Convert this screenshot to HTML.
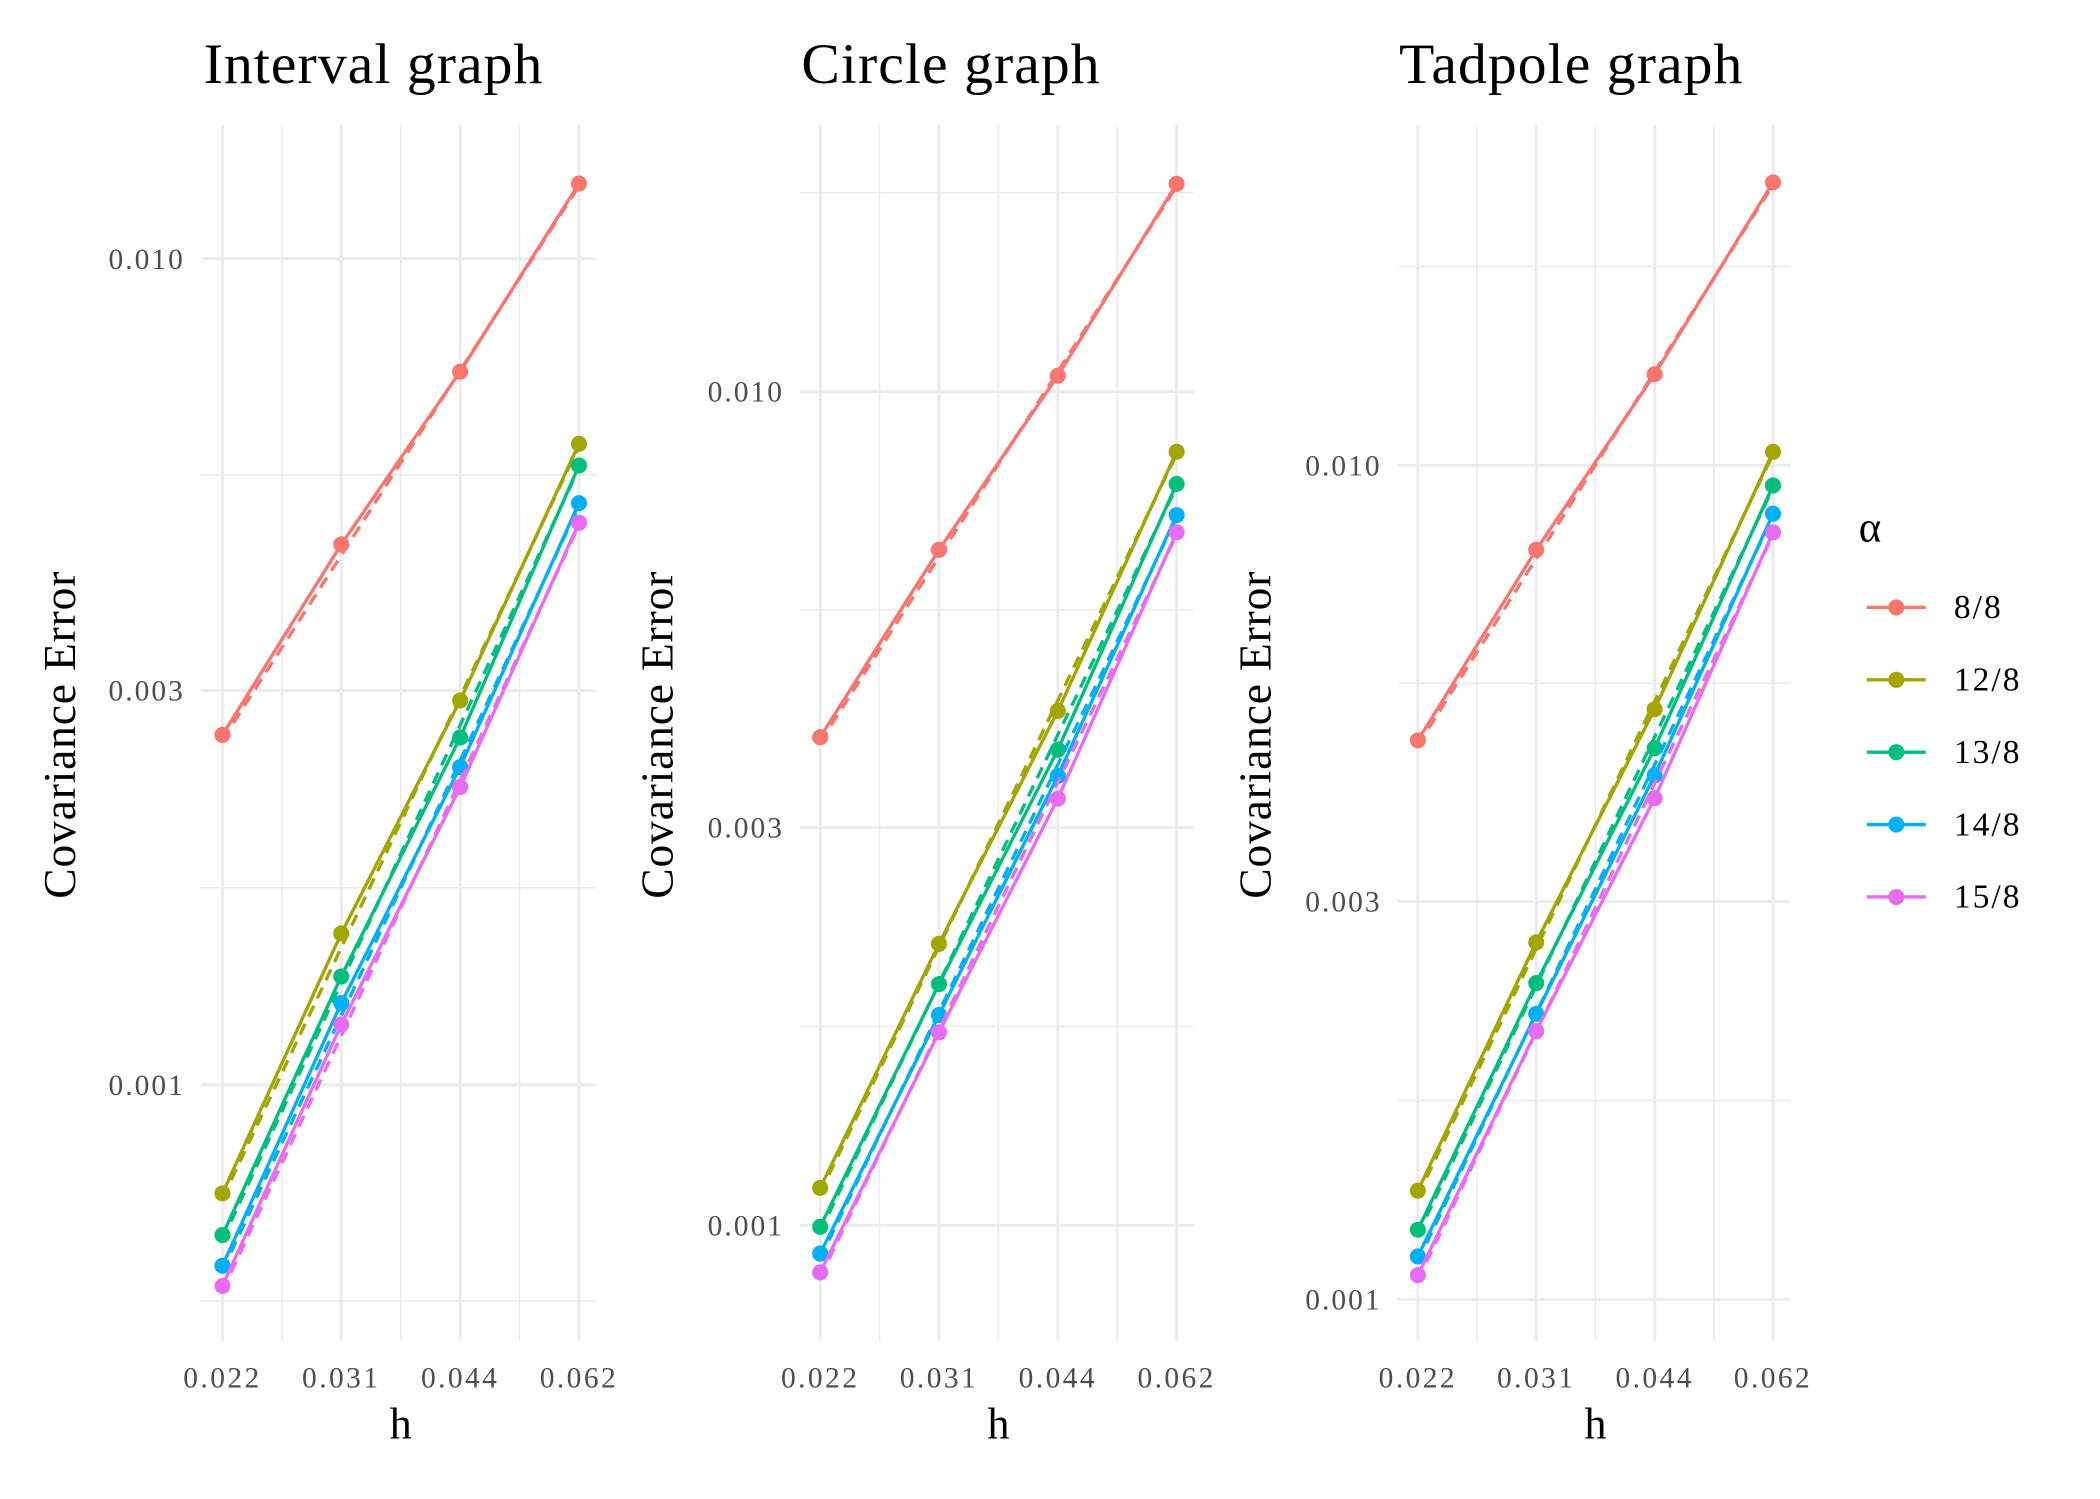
<!DOCTYPE html>
<html><head><meta charset="utf-8"><style>
html,body{margin:0;padding:0;background:#fff;}
svg{display:block;}
text{font-family:"Liberation Serif",serif;}
</style></head><body>
<svg id="chart" width="2100" height="1499" viewBox="0 0 1567 1118" preserveAspectRatio="none" xmlns="http://www.w3.org/2000/svg"></svg>
<script>
const hValues = [0.0221, 0.03125, 0.0442, 0.0625];
const hLabels = ["0.022", "0.031", "0.044", "0.062"];
const alphaLabels = ["8/8", "12/8", "13/8", "14/8", "15/8"];
const colors = ["#F8766D", "#A3A500", "#00BF7D", "#00B0F6", "#E76BF3"];
const yTicks = [0.001, 0.003, 0.010];
const yTickLabels = ["0.001", "0.003", "0.010"];
const panelTitles = ["Interval graph", "Circle graph", "Tadpole graph"];
// series values per panel (rows = alpha, cols = h)
const intervalErr = [
  [2.652e-3, 4.51e-3, 7.30e-3, 12.33e-3],
  [0.739e-3, 1.525e-3, 2.92e-3, 5.97e-3],
  [0.658e-3, 1.353e-3, 2.633e-3, 5.62e-3],
  [0.604e-3, 1.256e-3, 2.425e-3, 5.06e-3],
  [0.571e-3, 1.183e-3, 2.293e-3, 4.79e-3]
];
const circleErr = [
  [3.85e-3, 6.46e-3, 10.45e-3, 17.75e-3],
  [1.109e-3, 2.176e-3, 4.14e-3, 8.47e-3],
  [0.996e-3, 1.947e-3, 3.72e-3, 7.75e-3],
  [0.925e-3, 1.788e-3, 3.46e-3, 7.11e-3],
  [0.878e-3, 1.704e-3, 3.25e-3, 6.78e-3]
];
const tadpoleErr = [
  [4.68e-3, 7.92e-3, 12.86e-3, 21.84e-3],
  [1.35e-3, 2.68e-3, 5.10e-3, 10.38e-3],
  [1.212e-3, 2.395e-3, 4.58e-3, 9.46e-3],
  [1.126e-3, 2.20e-3, 4.25e-3, 8.75e-3],
  [1.069e-3, 2.097e-3, 3.99e-3, 8.31e-3]
];
const panelData = [intervalErr, circleErr, tadpoleErr];
const yDomains = [[0.00049, 0.01453], [0.000727, 0.0209], [0.000892, 0.02561]];

const NS = "http://www.w3.org/2000/svg";
const svg = document.getElementById("chart");
function mk(tag, attrs, parent) {
  const e = document.createElementNS(NS, tag);
  for (const k in attrs) e.setAttribute(k, attrs[k]);
  (parent || svg).appendChild(e);
  return e;
}
const panels = [
  {x0: 150, x1: 445, xa: 166, xb: 432},
  {x0: 597, x1: 891, xa: 612, xb: 878},
  {x0: 1043, x1: 1336, xa: 1058, xb: 1323}
];
const yTop = 93, yBot = 1000;

panels.forEach((p, pi) => {
  const g = mk("g", {});
  
  
  const lx0 = Math.log2(hValues[0]), lx1 = Math.log2(hValues[3]);
  const xs = h => p.xa + (Math.log2(h) - lx0) / (lx1 - lx0) * (p.xb - p.xa);
  const [d0, d1] = yDomains[pi];
  const ys = v => yBot - (Math.log10(v) - Math.log10(d0)) / (Math.log10(d1) - Math.log10(d0)) * (yBot - yTop);
  const ext = [0.0003, 0.001, 0.003, 0.01, 0.03];
  for (let i = 0; i < ext.length - 1; i++) {
    const m = Math.sqrt(ext[i] * ext[i + 1]);
    const y = ys(m);
    if (y > yTop && y < yBot) {
      const l = mk("line", {x1: p.x0, x2: p.x1, y1: y, y2: y, stroke: "#ebebeb", "stroke-width": 1.1}, g);
      
      
    }
  }
  for (let i = 0; i < 3; i++) {
    const x = (xs(hValues[i]) + xs(hValues[i + 1])) / 2;
    const l = mk("line", {x1: x, x2: x, y1: yTop, y2: yBot, stroke: "#ebebeb", "stroke-width": 1.1}, g);
    
    
  }
  yTicks.forEach((t, i) => {
    const y = ys(t);
    const l = mk("line", {x1: p.x0, x2: p.x1, y1: y, y2: y, stroke: "#ebebeb", "stroke-width": 2.2}, g);
    
    
    const tx = mk("text", {x: p.x0 - 12, y: y + 7.5, "text-anchor": "end", "font-size": 22, "letter-spacing": 1.5, fill: "#4d4d4d"}, g);
    tx.textContent = yTickLabels[i];
    
    
  });
  hValues.forEach((h, i) => {
    const x = xs(h);
    const l = mk("line", {x1: x, x2: x, y1: yTop, y2: yBot, stroke: "#ebebeb", "stroke-width": 2.2}, g);
    
    
    const tx = mk("text", {x: x, y: 1035, "text-anchor": "middle", "font-size": 22, "letter-spacing": 1.8, fill: "#4d4d4d"}, g);
    tx.textContent = hLabels[i];
    
    
  });
  const data = panelData[pi];
  data.forEach((row, si) => {
    const a = Math.log10(row[0]) - 0.006, b = Math.log10(row[3]) - 0.003;
    const rx1 = xs(hValues[0]), rx2 = xs(hValues[3]);
    const dl = mk("line", {x1: rx1, y1: ys(Math.pow(10, a)), x2: rx2, y2: ys(Math.pow(10, b)), stroke: colors[si], "stroke-width": 2.5, "stroke-dasharray": "9 6"}, g);
    
    
    const pts = row.map((v, i) => xs(hValues[i]) + "," + ys(v)).join(" ");
    const pl = mk("polyline", {points: pts, fill: "none", stroke: colors[si], "stroke-width": 2.5}, g);
    
    
    row.forEach((v, i) => {
      const c = mk("circle", {cx: xs(hValues[i]), cy: ys(v), r: 6, fill: colors[si]}, g);
      
      
    });
  });
  const cx = (p.x0 + p.x1) / 2;
  const tt = mk("text", {x: p.xa - 14, y: 62, "font-size": 43, "letter-spacing": 0.8, fill: "#000"}, g);
  tt.textContent = panelTitles[pi];
  
  
  const xt = mk("text", {x: (p.xa + p.xb) / 2, y: 1073, "text-anchor": "middle", "font-size": 33, fill: "#000"}, g);
  xt.textContent = "h";
  
  
  const yx = p.xa - 110, yc = 548;
  const yt = mk("text", {x: yx, y: yc, "text-anchor": "middle", "font-size": 34, "letter-spacing": 0.6, fill: "#000", transform: "rotate(-90 " + yx + " " + yc + ")"}, g);
  yt.textContent = "Covariance Error";
  
  
});

const lg = mk("g", {});


const lt = mk("text", {x: 1387, y: 404, "font-size": 32, fill: "#000"}, lg);
lt.textContent = "α";


alphaLabels.forEach((lab, i) => {
  const y = 453 + i * 54;
  const e = mk("g", {}, lg);
  
  
  mk("line", {x1: 1393, x2: 1437, y1: y, y2: y, stroke: colors[i], "stroke-width": 2.5}, e);
  mk("circle", {cx: 1415, cy: y, r: 6, fill: colors[i]}, e);
  const t = mk("text", {x: 1458, y: y + 8, "font-size": 25, "letter-spacing": 1.5, fill: "#000"}, e);
  t.textContent = lab;
});
</script>
</body></html>
